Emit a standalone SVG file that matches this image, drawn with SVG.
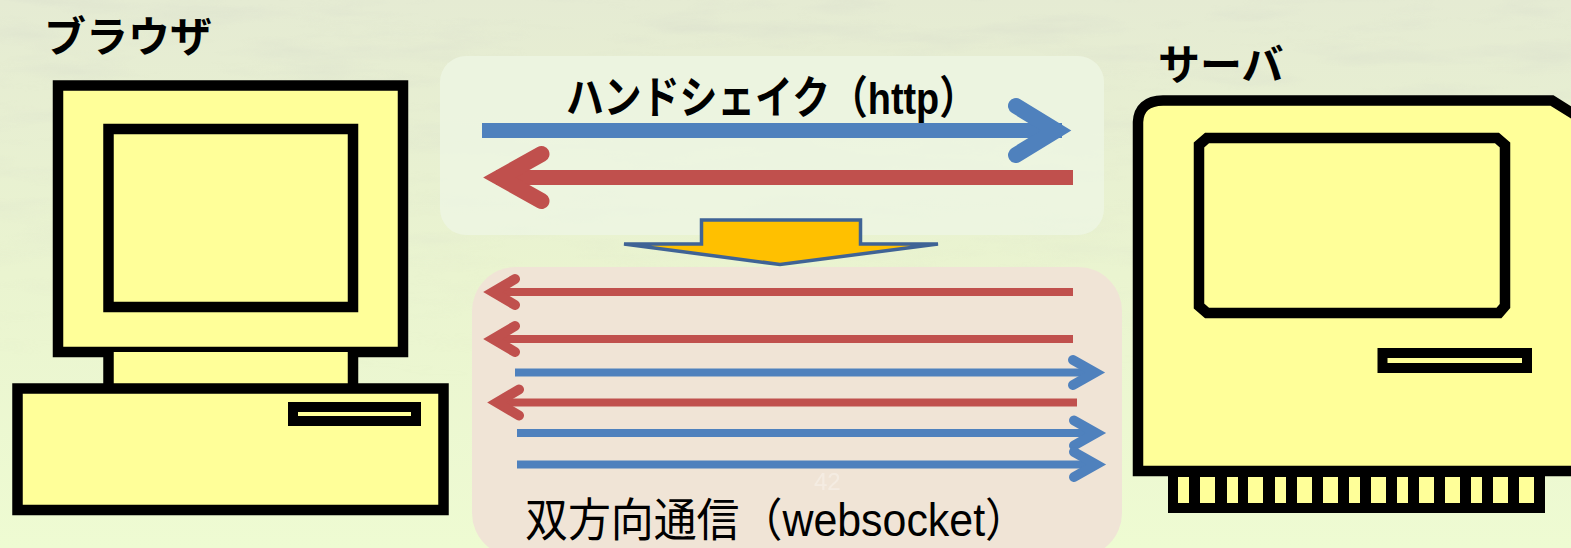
<svg xmlns="http://www.w3.org/2000/svg" xmlns:xlink="http://www.w3.org/1999/xlink" width="1571" height="548" viewBox="0 0 1571 548">
  <style>
    .ink { stroke: #000; stroke-width: 10.5; fill: #ffff99; }
    .slot { stroke: #000; stroke-width: 10; fill: #ffff99; }
    .label { font-family: "Liberation Sans", "Noto Sans CJK JP", sans-serif; fill: #000; }
    .bold { font-weight: bold; }
    .red { stroke: #c0504d; fill: none; }
    .blue { stroke: #4f81bd; fill: none; }
    .thick { stroke-width: 15; }
    .thin { stroke-width: 8; }
    .head-big { stroke-width: 16; stroke-linecap: round; stroke-linejoin: miter; }
    .head-small { stroke-width: 10; stroke-linecap: round; stroke-linejoin: miter; }
  </style>
  <defs>
    <linearGradient id="bg" x1="0" y1="0" x2="0" y2="1">
      <stop offset="0" stop-color="#e5ebd3"/>
      <stop offset="0.5" stop-color="#eaf4d0"/>
      <stop offset="1" stop-color="#eefbd2"/>
    </linearGradient>
    <linearGradient id="fade" x1="0" y1="0" x2="0" y2="1">
      <stop offset="0" stop-color="#fff" stop-opacity="1"/>
      <stop offset="0.45" stop-color="#fff" stop-opacity="0.5"/>
      <stop offset="0.7" stop-color="#fff" stop-opacity="0"/>
    </linearGradient>
    <mask id="fadeMask">
      <rect width="1571" height="548" fill="url(#fade)"/>
    </mask>
    <filter id="paper" x="0" y="0" width="100%" height="100%">
      <feTurbulence type="fractalNoise" baseFrequency="0.008 0.045" numOctaves="4" seed="7"/>
      <feColorMatrix type="matrix" values="0 0 0 0 0.62  0 0 0 0 0.64  0 0 0 0 0.58  0 0 0 1.5 -0.7"/>
    </filter>
    <!-- arrowhead chevrons, vertex at the origin -->
    <path id="headL-big" d="M42,-23.5 L0,0 L42,23.5"/>
    <path id="headR-big" d="M-40,-24.5 L0,0 L-40,24.5"/>
    <path id="headL-small" d="M22,-13 L0,0 L22,13"/>
    <path id="headR-small" d="M-22,-12.5 L0,0 L-22,12.5"/>
  </defs>

  <!-- background -->
  <rect width="1571" height="548" fill="url(#bg)"/>
  <rect width="1571" height="548" filter="url(#paper)" mask="url(#fadeMask)" opacity="0.4"/>

  <!-- client machine -->
  <g id="browser">
    <text class="label bold" x="44" y="52" font-size="42">ブラウザ</text>
    <rect class="ink" x="58" y="85.5" width="345" height="266.5"/>
    <rect class="ink" x="108.5" y="129" width="244.5" height="178"/>
    <rect x="108.5" y="352" width="244.5" height="36" fill="#ffff99"/>
    <line x1="108.5" y1="352" x2="108.5" y2="388" stroke="#000" stroke-width="10.5"/>
    <line x1="353" y1="352" x2="353" y2="388" stroke="#000" stroke-width="10.5"/>
    <rect class="ink" x="17.5" y="388.5" width="426" height="121.5"/>
    <rect class="slot" x="293" y="407" width="123" height="14"/>
  </g>

  <!-- server machine -->
  <g id="server">
    <text class="label bold" x="1158" y="80" font-size="42">サーバ</text>
    <rect x="1168" y="466" width="377" height="47" fill="#000"/>
    <g fill="#ffff99">
      <rect x="1178" y="477" width="11" height="26"/>
      <rect x="1200" y="477" width="15" height="26"/>
      <rect x="1227" y="477" width="11" height="26"/>
      <rect x="1248" y="477" width="15" height="26"/>
      <rect x="1275" y="477" width="11" height="26"/>
      <rect x="1297" y="477" width="15" height="26"/>
      <rect x="1323" y="477" width="15" height="26"/>
      <rect x="1349" y="477" width="11" height="26"/>
      <rect x="1371" y="477" width="15" height="26"/>
      <rect x="1397" y="477" width="11" height="26"/>
      <rect x="1419" y="477" width="15" height="26"/>
      <rect x="1445" y="477" width="15" height="26"/>
      <rect x="1471" y="477" width="11" height="26"/>
      <rect x="1493" y="477" width="15" height="26"/>
      <rect x="1519" y="477" width="15" height="26"/>
    </g>
    <path class="ink" d="M1138,471 V122 Q1139,101 1163,100.5 H1552 L1580,118 V471 Z"/>
    <path class="ink" d="M1207,138 H1497 L1505,145 V306 L1499,313 H1207 L1199,306 V145 Z"/>
    <rect class="slot" x="1382.5" y="353" width="144.5" height="15"/>
  </g>

  <!-- handshake phase -->
  <g id="handshake">
    <rect x="440" y="56" width="664" height="179" rx="26" fill="#edf5e1" opacity="0.88"/>
    <text class="label bold" x="566" y="114" font-size="45" textLength="411" lengthAdjust="spacingAndGlyphs">ハンドシェイク（http）</text>
  </g>

  <!-- websocket phase -->
  <g id="websocket">
    <rect x="472" y="267" width="650" height="290" rx="44" fill="#f0e4d6"/>
    <text x="814" y="490" font-family="Liberation Sans, sans-serif" font-size="24" fill="#ffffff" opacity="0.3">42</text>
    <text class="label" x="525" y="536" font-size="46" textLength="503" lengthAdjust="spacingAndGlyphs">双方向通信（websocket）</text>
  </g>

  <!-- transition between phases -->
  <g id="transition">
    <path d="M701.5,220 H860.5 V244 H938 L780,264.5 L624,244 H701.5 Z" fill="#ffc000" stroke="#3f6395" stroke-width="3.5" stroke-linejoin="miter"/>
  </g>

  <!-- message arrows -->
  <g id="connectors">
    <!-- handshake request / response -->
    <line class="blue thick" x1="482" y1="130.5" x2="1062" y2="130.5"/>
    <use class="blue head-big" xlink:href="#headR-big" x="1056" y="130.5"/>
    <line class="red thick" x1="496" y1="177.5" x2="1073" y2="177.5"/>
    <use class="red head-big" xlink:href="#headL-big" x="499.5" y="177.5"/>

    <!-- bidirectional messages -->
    <line class="red thin" x1="492" y1="292" x2="1073" y2="292"/>
    <use class="red head-small" xlink:href="#headL-small" x="493" y="292"/>
    <line class="red thin" x1="492" y1="339" x2="1073" y2="339"/>
    <use class="red head-small" xlink:href="#headL-small" x="493" y="339"/>
    <line class="blue thin" x1="515" y1="372.5" x2="1095" y2="372.5"/>
    <use class="blue head-small" xlink:href="#headR-small" x="1095" y="372.5"/>
    <line class="red thin" x1="496" y1="402.5" x2="1077" y2="402.5"/>
    <use class="red head-small" xlink:href="#headL-small" x="497" y="402.5"/>
    <line class="blue thin" x1="517" y1="433" x2="1096" y2="433"/>
    <use class="blue head-small" xlink:href="#headR-small" x="1096" y="433"/>
    <line class="blue thin" x1="517" y1="464.5" x2="1096" y2="464.5"/>
    <use class="blue head-small" xlink:href="#headR-small" x="1096" y="464.5"/>
  </g>
</svg>
